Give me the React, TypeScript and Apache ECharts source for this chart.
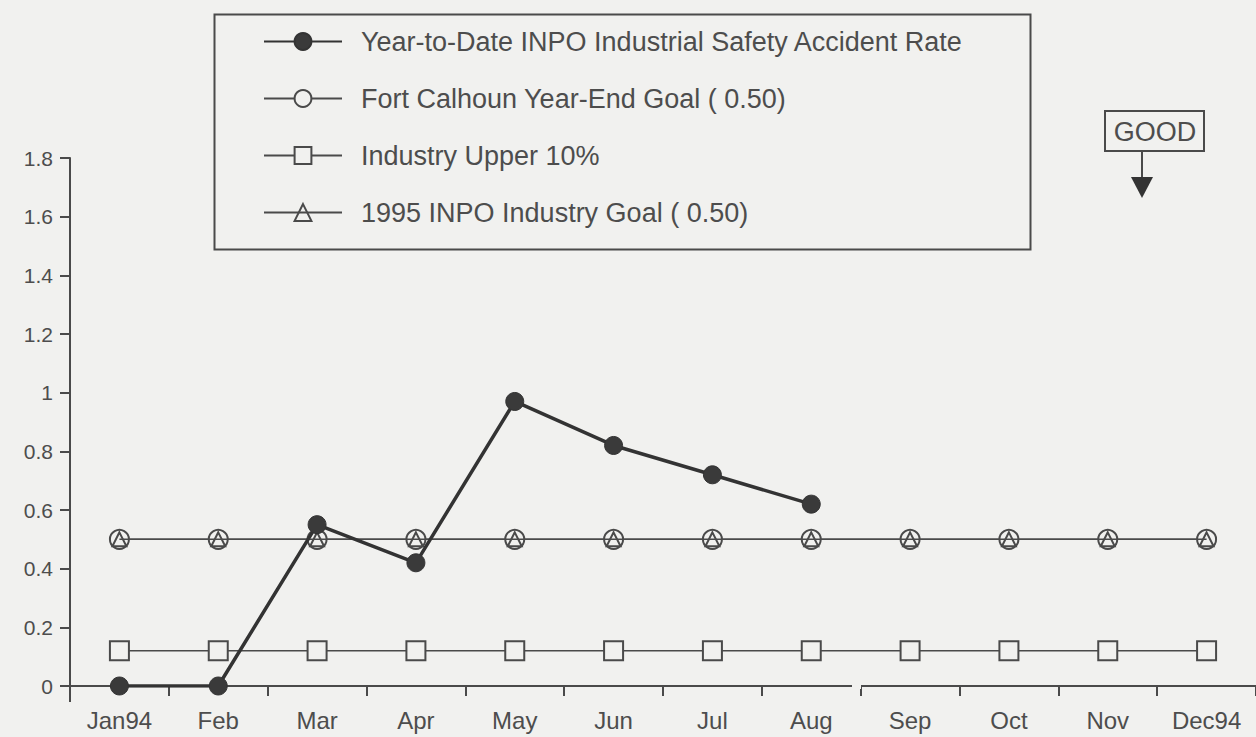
import React, { useEffect, useRef } from "react";
import * as echarts from "echarts";

const months = ["Jan94", "Feb", "Mar", "Apr", "May", "Jun", "Jul", "Aug", "Sep", "Oct", "Nov", "Dec94"];
const ytdRate = [0, 0, 0.55, 0.42, 0.97, 0.82, 0.72, 0.62, null, null, null, null];
const fortCalhounGoal = [0.5, 0.5, 0.5, 0.5, 0.5, 0.5, 0.5, 0.5, 0.5, 0.5, 0.5, 0.5];
const industryUpper10 = [0.12, 0.12, 0.12, 0.12, 0.12, 0.12, 0.12, 0.12, 0.12, 0.12, 0.12, 0.12];
const inpoGoal1995 = [0.5, 0.5, 0.5, 0.5, 0.5, 0.5, 0.5, 0.5, 0.5, 0.5, 0.5, 0.5];

const BG = "#f1f1ef";
const INK = "#4a4a4a";
const TXT = "#4d4d4d";
const FONT = "'Liberation Sans', Arial, Helvetica, sans-serif";

export default function App() {
  const ref = useRef<HTMLDivElement>(null);
  useEffect(() => {
    if (!ref.current) return;
    const chart = echarts.init(ref.current, undefined, { renderer: "svg" });
    const hollow = { color: BG, borderColor: INK, borderWidth: 2 };
    chart.setOption({
      animation: false,
      backgroundColor: BG,
      textStyle: { fontFamily: FONT },
      grid: { left: 70, top: 158, right: -6, bottom: 51, containLabel: false },
      legend: {
        orient: "vertical",
        left: 258,
        top: 23,
        itemWidth: 78,
        itemHeight: 21,
        itemGap: 30,
        textStyle: { fontSize: 27, color: TXT, fontFamily: FONT, padding: [0, 0, 0, 14] },
        data: [
          "Year-to-Date INPO Industrial Safety Accident Rate",
          "Fort Calhoun Year-End Goal ( 0.50)",
          "Industry Upper 10%",
          "1995 INPO Industry Goal ( 0.50)",
        ],
      },
      xAxis: {
        type: "category",
        data: months,
        boundaryGap: true,
        axisLine: { lineStyle: { color: INK, width: 2 } },
        axisTick: { show: true, length: 10, lineStyle: { color: INK, width: 2 } },
        axisLabel: { fontSize: 24, color: TXT, margin: 22, fontFamily: FONT },
        splitLine: { show: false },
      },
      yAxis: {
        type: "value",
        min: 0,
        max: 1.8,
        interval: 0.2,
        axisLine: { show: true, lineStyle: { color: INK, width: 2 } },
        axisTick: { show: true, length: 10, lineStyle: { color: INK, width: 2 } },
        axisLabel: {
          fontSize: 21,
          color: TXT,
          margin: 17,
          fontFamily: FONT,
          formatter: (v: number) => String(+v.toFixed(1)),
        },
        splitLine: { show: false },
      },
      series: [
        {
          name: "Fort Calhoun Year-End Goal ( 0.50)",
          type: "line",
          data: fortCalhounGoal,
          symbol: "circle",
          symbolSize: 19,
          lineStyle: { color: INK, width: 1.5 },
          itemStyle: hollow,
          z: 2,
        },
        {
          name: "Industry Upper 10%",
          type: "line",
          data: industryUpper10,
          symbol: "rect",
          symbolSize: 19,
          lineStyle: { color: INK, width: 1.5 },
          itemStyle: hollow,
          z: 2,
        },
        {
          name: "1995 INPO Industry Goal ( 0.50)",
          type: "line",
          data: inpoGoal1995,
          symbol: "triangle",
          symbolSize: 14,
          lineStyle: { color: INK, width: 1.5 },
          itemStyle: { color: "rgba(0,0,0,0)", borderColor: INK, borderWidth: 2 },
          z: 3,
        },
        {
          name: "Year-to-Date INPO Industrial Safety Accident Rate",
          type: "line",
          data: ytdRate,
          symbol: "circle",
          symbolSize: 18,
          lineStyle: { color: "#333", width: 3.5 },
          itemStyle: { color: "#3a3a3a", borderColor: "#333", borderWidth: 1 },
          z: 5,
        },
      ],
      graphic: [
        {
          type: "rect",
          left: 212,
          top: 12,
          shape: { width: 816, height: 235 },
          style: { fill: "none", stroke: INK, lineWidth: 2 },
          z: 0,
        },
        {
          type: "rect",
          left: 852,
          top: 683,
          shape: { width: 9, height: 6 },
          style: { fill: BG },
          z: 100,
        },
        {
          type: "line",
          shape: { x1: 70, y1: 686, x2: 70, y2: 702 },
          style: { stroke: INK, lineWidth: 2 },
          z: 100,
        },
        {
          type: "rect",
          shape: { x: 1105, y: 111, width: 99, height: 40 },
          style: { fill: "none", stroke: INK, lineWidth: 2 },
          z: 100,
        },
        {
          type: "text",
          x: 1155,
          y: 132,
          style: {
            text: "GOOD",
            fontSize: 27,
            fill: TXT,
            fontFamily: FONT,
            align: "center",
            verticalAlign: "middle",
          },
          z: 100,
        },
        {
          type: "line",
          shape: { x1: 1142, y1: 151, x2: 1142, y2: 180 },
          style: { stroke: INK, lineWidth: 2 },
          z: 100,
        },
        {
          type: "polygon",
          shape: { points: [[1131, 177], [1153, 177], [1142, 198]] },
          style: { fill: "#333" },
          z: 100,
        },
      ],
    });
    return () => chart.dispose();
  }, []);
  return (
    <div
      ref={ref}
      style={{ position: "fixed", left: 0, top: 0, width: 1256, height: 737 }}
    />
  );
}
